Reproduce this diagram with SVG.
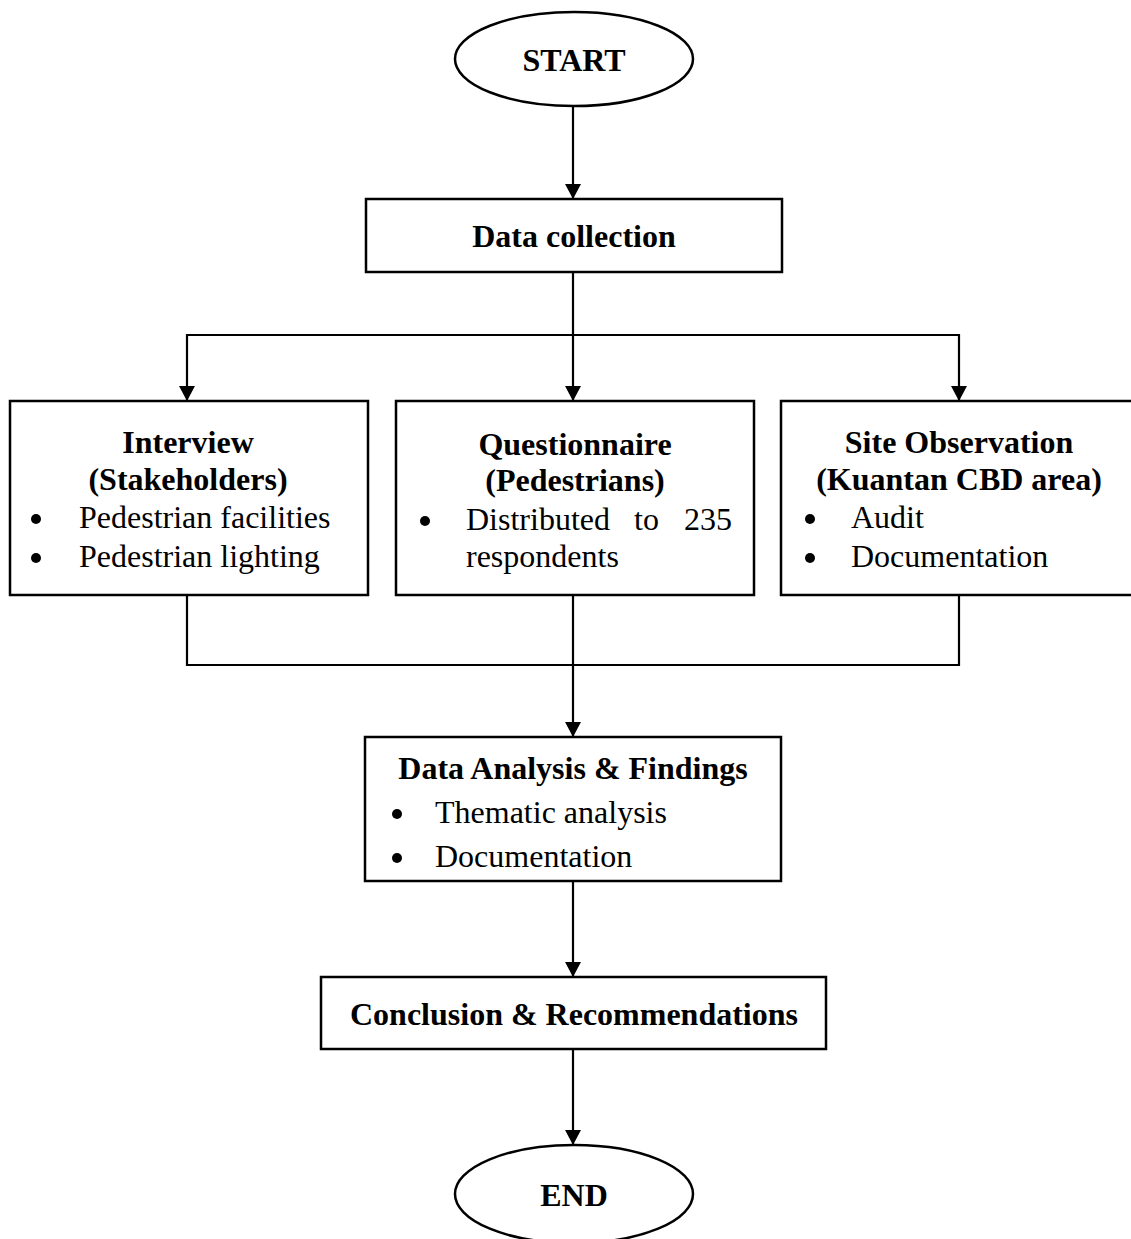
<svg xmlns="http://www.w3.org/2000/svg" width="1131" height="1239" viewBox="0 0 1131 1239">
<defs>
<marker id="arr" markerWidth="16" markerHeight="16" refX="15" refY="8" orient="auto" markerUnits="userSpaceOnUse">
<path d="M0,0 L15,8 L0,16 Z" fill="#000"/>
</marker>
<style>
.shape{fill:#fff;stroke:#000;stroke-width:2.5}
.conn{fill:none;stroke:#000;stroke-width:2.2}
.b{font-family:"Liberation Serif","Times New Roman",serif;font-weight:bold;font-size:32px;fill:#000}
.r{font-family:"Liberation Serif","Times New Roman",serif;font-size:32px;fill:#000}
.c{text-anchor:middle}
</style>
</defs>
<rect width="1131" height="1239" fill="#fff"/>
<g id="connectors">
<path class="conn" d="M573,106 L573,199" marker-end="url(#arr)"/>
<path class="conn" d="M573,272 L573,401" marker-end="url(#arr)"/>
<path class="conn" d="M187,335 L959,335"/>
<path class="conn" d="M187,334 L187,401" marker-end="url(#arr)"/>
<path class="conn" d="M959,334 L959,401" marker-end="url(#arr)"/>
<path class="conn" d="M187,595 L187,665 L959,665 L959,595"/>
<path class="conn" d="M573,595 L573,737" marker-end="url(#arr)"/>
<path class="conn" d="M573,881 L573,977" marker-end="url(#arr)"/>
<path class="conn" d="M573,1049 L573,1145" marker-end="url(#arr)"/>
</g>
<g id="start">
<ellipse class="shape" cx="574" cy="59" rx="119" ry="47"/>
<text class="b c" x="574" y="71">START</text>
</g>
<g id="data-collection">
<rect class="shape" x="366" y="199" width="416" height="73"/>
<text class="b c" x="574" y="247">Data collection</text>
</g>
<g id="interview">
<rect class="shape" x="10" y="401" width="358" height="194"/>
<text class="b c" x="188" y="453">Interview</text>
<text class="b c" x="188" y="490">(Stakeholders)</text>
<circle cx="36" cy="519" r="5"/>
<text class="r" x="79" y="528">Pedestrian facilities</text>
<circle cx="36" cy="558" r="5"/>
<text class="r" x="79" y="567">Pedestrian lighting</text>
</g>
<g id="questionnaire">
<rect class="shape" x="396" y="401" width="358" height="194"/>
<text class="b c" x="575" y="455">Questionnaire</text>
<text class="b c" x="575" y="491">(Pedestrians)</text>
<circle cx="425" cy="521" r="5"/>
<text class="r" x="466" y="530">Distributed</text>
<text class="r" x="634" y="530">to</text>
<text class="r" x="684" y="530">235</text>
<text class="r" x="466" y="567">respondents</text>
</g>
<g id="site-observation">
<rect class="shape" x="781" y="401" width="362" height="194"/>
<text class="b c" x="959" y="453">Site Observation</text>
<text class="b c" x="959" y="490">(Kuantan CBD area)</text>
<circle cx="810" cy="519" r="5"/>
<text class="r" x="851" y="528">Audit</text>
<circle cx="810" cy="558" r="5"/>
<text class="r" x="851" y="567">Documentation</text>
</g>
<g id="data-analysis">
<rect class="shape" x="365" y="737" width="416" height="144"/>
<text class="b c" x="573" y="779">Data Analysis &amp; Findings</text>
<circle cx="397" cy="814" r="5"/>
<text class="r" x="435" y="823">Thematic analysis</text>
<circle cx="397" cy="858" r="5"/>
<text class="r" x="435" y="867">Documentation</text>
</g>
<g id="conclusion">
<rect class="shape" x="321" y="977" width="505" height="72"/>
<text class="b c" x="574" y="1025">Conclusion &amp; Recommendations</text>
</g>
<g id="end">
<ellipse class="shape" cx="574" cy="1194" rx="119" ry="49"/>
<text class="b c" x="574" y="1206">END</text>
</g>
</svg>
